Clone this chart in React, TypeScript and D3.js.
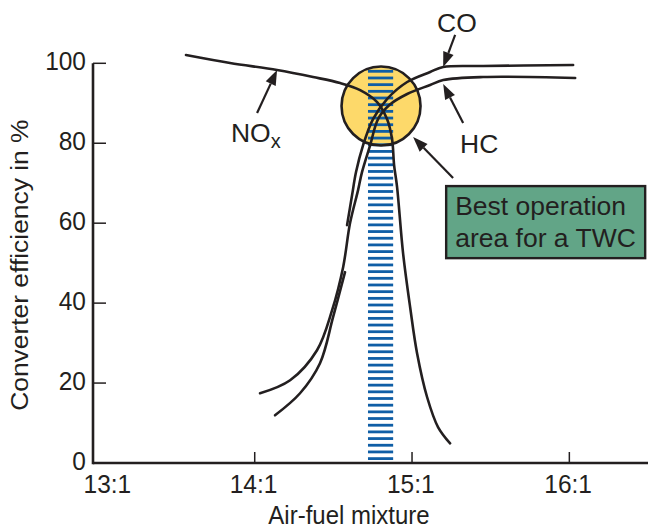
import React from "react";
import * as d3 from "d3";

const W = 648;
const H = 529;

// axis ticks
const xTicks = [13, 14, 15, 16];
const xTickLabels = ["13:1", "14:1", "15:1", "16:1"];
const yTicks = [0, 20, 40, 60, 80, 100];

// NOx efficiency curve (air-fuel ratio, %)
const noxAfr = [13.563, 13.843, 14.142, 14.371, 14.543, 14.67, 14.778, 14.841, 14.873, 14.886, 14.905, 14.943, 14.988, 15.032, 15.096, 15.166, 15.242];
const noxEff = [102.08, 100.08, 98.32, 96.57, 95.07, 93.31, 90.31, 86.05, 81.05, 74.54, 69.03, 52.5, 38.98, 27.46, 16.45, 8.94, 4.93];

// CO efficiency curve (drawn in two pieces, broken where it crosses HC)
const coLowAfr = [14.129, 14.288, 14.415, 14.498, 14.574];
const coLowEff = [11.94, 17.45, 24.96, 36.48, 47.75];
const coHighAfr = [14.587, 14.619, 14.644, 14.689, 14.752, 14.841, 14.969, 15.115, 15.198, 15.452, 16.024];
const coHighEff = [59.51, 67.03, 72.78, 79.54, 86.05, 91.06, 95.32, 97.82, 99.07, 99.32, 99.57];

// HC efficiency curve
const hcAfr = [14.034, 14.225, 14.396, 14.492, 14.562, 14.606, 14.657, 14.682, 14.734, 14.784, 14.856, 14.969, 15.115, 15.198, 15.452, 16.037];
const hcEff = [17.45, 20.71, 28.22, 38.23, 49.0, 60.02, 68.28, 72.78, 79.54, 86.05, 89.56, 92.31, 94.57, 95.82, 96.57, 96.32];

// lambda window (striped band) and best-operation circle
const bandAfr = [14.72, 14.88];
const bandEff = [0, 98];
const stripeCount = 59;
const circleCenter = [14.803, 89.3];

// annotations: label, label position, arrow tail, arrow tip (afr, %)
const labels = ["CO", "HC", "NO", "Best operation", "area for a TWC"];
const arrowTails = [[15.274, 107.09], [15.325, 85.05], [14.015, 87.56], [15.261, 71.28]];
const arrowTips = [[15.198, 99.07], [15.198, 94.8], [14.142, 98.32], [15.007, 81.55]];
const boxAfr = [15.217, 16.482];
const boxEff = [51.25, 69.28];

const INK = "#231f20";
const FONT = "'Liberation Sans', Arial, Helvetica, sans-serif";

export default function App() {
  const x = d3.scaleLinear().domain([12.972, 16.5]).range([93, 648]);
  const y = d3.scaleLinear().domain([0, 100]).range([463, 63.3]);

  const line = d3
    .line<[number, number]>()
    .x((d) => x(d[0]))
    .y((d) => y(d[1]))
    .curve(d3.curveCatmullRom.alpha(0.5));

  const zip = (a: number[], b: number[]) => a.map((v, i) => [v, b[i]] as [number, number]);

  const curves = [
    zip(noxAfr, noxEff),
    zip(coLowAfr, coLowEff),
    zip(coHighAfr, coHighEff),
    zip(hcAfr, hcEff),
  ];

  const stripeStep = (bandEff[1] - 1.1) / (stripeCount - 1);
  const stripes = d3.range(stripeCount).map((i) => 1.1 + i * stripeStep);

  const arrowHead = (tail: number[], tip: number[]) => {
    const tx = x(tip[0]);
    const ty = y(tip[1]);
    const sx = x(tail[0]);
    const sy = y(tail[1]);
    const ang = Math.atan2(ty - sy, tx - sx);
    const L = 15;
    const Wd = 5.5;
    const bx = tx - L * Math.cos(ang);
    const by = ty - L * Math.sin(ang);
    const px = -Math.sin(ang) * Wd;
    const py = Math.cos(ang) * Wd;
    return {
      shaft: { x1: sx, y1: sy, x2: bx, y2: by },
      head: `${tx},${ty} ${bx + px},${by + py} ${bx - px},${by - py}`,
    };
  };

  const cx = x(circleCenter[0]);
  const cy = y(circleCenter[1]);

  return (
    <svg
      width={W}
      height={H}
      style={{ position: "absolute", left: 0, top: 0, background: "#fff" }}
      fontFamily={FONT}
    >
      {/* best-operation circle */}
      <circle cx={cx} cy={cy} r={39.5} fill="#fdd96a" />

      {/* striped lambda window */}
      {stripes.map((v, i) => (
        <rect
          key={i}
          x={x(bandAfr[0])}
          width={x(bandAfr[1]) - x(bandAfr[0])}
          y={y(v) - 1.4}
          height={2.8}
          fill="#0f5ea6"
        />
      ))}
      <circle cx={cx} cy={cy} r={39.5} fill="none" stroke={INK} strokeWidth={2.6} />

      {/* curves */}
      {curves.map((c, i) => (
        <path key={i} d={line(c) || ""} fill="none" stroke={INK} strokeWidth={2.6} strokeLinecap="round" />
      ))}

      {/* axes */}
      <line x1={93} x2={648} y1={y(0)} y2={y(0)} stroke={INK} strokeWidth={2.6} />
      <line x1={93} x2={93} y1={y(0) + 1.3} y2={y(100)} stroke={INK} strokeWidth={2.6} />
      {yTicks.map((t) => (
        <g key={t}>
          <line x1={93} x2={106} y1={y(t)} y2={y(t)} stroke={INK} strokeWidth={1.5} />
          <text
            x={86}
            y={y(t)}
            textAnchor="end"
            fontSize={24.5}
            fill={INK}
            transform={`translate(0,${y(t) + 7}) scale(1,1.08) translate(0,${-(y(t) + 7)})`}
            dy={7}
          >
            {t}
          </text>
        </g>
      ))}
      {xTicks.map((t, i) => (
        <g key={t}>
          {i > 0 && <line x1={x(t)} x2={x(t)} y1={y(0)} y2={y(0) - 11} stroke={INK} strokeWidth={1.5} />}
          <text
            x={x(t) + (i === 0 ? 10 : -1.2)}
            y={493}
            textAnchor="middle"
            fontSize={24.5}
            fill={INK}
            transform="translate(0,493) scale(1,1.08) translate(0,-493)"
          >
            {xTickLabels[i]}
          </text>
        </g>
      ))}
      <text
        x={349}
        y={524}
        textAnchor="middle"
        fontSize={24}
        fill={INK}
        transform="translate(0,524) scale(1,1.08) translate(0,-524)"
      >
        Air-fuel mixture
      </text>
      <text
        transform={`translate(28,${(y(0) + y(100)) / 2 + 2}) scale(1,1.1) rotate(-90)`}
        textAnchor="middle"
        fontSize={24}
        fill={INK}
      >
        Converter efficiency in %
      </text>

      {/* arrows */}
      {arrowTails.map((t, i) => {
        const a = arrowHead(t, arrowTips[i]);
        return (
          <g key={i}>
            <line {...a.shaft} stroke={INK} strokeWidth={2.2} />
            <polygon points={a.head} fill={INK} />
          </g>
        );
      })}

      {/* labels */}
      <text x={x(15.159)} y={y(107.8)} fontSize={26.5} fill={INK}>
        {labels[0]}
      </text>
      <text x={x(15.305)} y={y(77.54)} fontSize={26.5} fill={INK}>
        {labels[1]}
      </text>
      <text x={x(13.849)} y={y(80.25)} fontSize={26.5} fill={INK}>
        {labels[2]}
        <tspan fontSize={20} dy={6}>x</tspan>
      </text>

      {/* callout box */}
      <rect
        x={x(boxAfr[0])}
        y={y(boxEff[1])}
        width={x(boxAfr[1]) - x(boxAfr[0])}
        height={y(boxEff[0]) - y(boxEff[1])}
        fill="#62a587"
        stroke={INK}
        strokeWidth={2.4}
      />
      <text x={x(boxAfr[0]) + 9} y={y(boxEff[1]) + 29} fontSize={26.5} fill={INK}>
        {labels[3]}
      </text>
      <text x={x(boxAfr[0]) + 9} y={y(boxEff[1]) + 61} fontSize={26.5} fill={INK}>
        {labels[4]}
      </text>
    </svg>
  );
}
